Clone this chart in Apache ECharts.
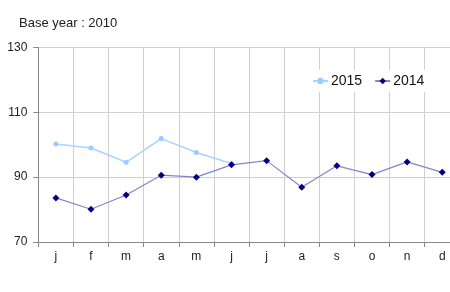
<!DOCTYPE html>
<html><head><meta charset="utf-8">
<script src="https://cdn.jsdelivr.net/npm/echarts@6/dist/echarts.min.js"></script>
<style>html,body{margin:0;padding:0;background:#fff;overflow:hidden}#c{width:460px;height:292px}</style>
</head><body><div id="c"></div>
<script>
var categories = ['j','f','m','a','m','j','j','a','s','o','n','d'];
var s2015 = [100.2, 99.0, 94.6, 101.9, 97.6, 94.2, null, null, null, null, null, null];
var s2014 = [83.6, 80.1, 84.5, 90.6, 90.0, 93.8, 95.1, 86.9, 93.5, 90.8, 94.7, 91.5];
var yTicks = [70, 90, 110, 130];

var chart = echarts.init(document.getElementById('c'), null, {renderer:'canvas'});
chart.setOption({
  animation:false,
  backgroundColor:'#fff',
  title:{text:'Base year : 2010', left:19, top:17, padding:0,
    textStyle:{fontFamily:'Liberation Sans, Arial', fontSize:13, fontWeight:'normal', color:'#222'}},
  legend:{left:305, top:70, padding:[4,7,4,7], backgroundColor:'#fff', itemGap:12,
    itemWidth:15, itemHeight:8,
    textStyle:{fontFamily:'Liberation Sans, Arial', fontSize:14, color:'#111', padding:[0,0,0,-2]},
    data:['2015','2014']},
  grid:{left:38.3, top:47.5, height:194.5, width:421.5, containLabel:false},
  xAxis:{type:'category', data:categories, boundaryGap:true,
    axisLine:{lineStyle:{color:'#888', width:1}},
    axisTick:{show:true, length:5, lineStyle:{color:'#888'}},
    axisLabel:{fontFamily:'Liberation Sans, Arial', fontSize:12, color:'#222', margin:9},
    splitLine:{show:true, lineStyle:{color:'#d0d0d0', width:1}}},
  yAxis:{type:'value', min:yTicks[0], max:yTicks[yTicks.length-1], interval:20,
    axisLine:{show:true, lineStyle:{color:'#888'}},
    axisTick:{show:true, length:5, lineStyle:{color:'#888'}},
    axisLabel:{fontFamily:'Liberation Sans, Arial', fontSize:12, color:'#222', margin:11},
    splitLine:{show:true, lineStyle:{color:'#d0d0d0', width:1}}},
  series:[
    {name:'2015', type:'line', data:s2015, symbol:'circle', symbolSize:5,
      itemStyle:{color:'#99ccff'}, lineStyle:{color:'#a8d4ff', width:1.5}, z:2},
    {name:'2014', type:'line', data:s2014, symbol:'diamond', symbolSize:7,
      itemStyle:{color:'#000080'}, lineStyle:{color:'#8585c8', width:1.2}, z:3}
  ]
});
</script></body></html>
